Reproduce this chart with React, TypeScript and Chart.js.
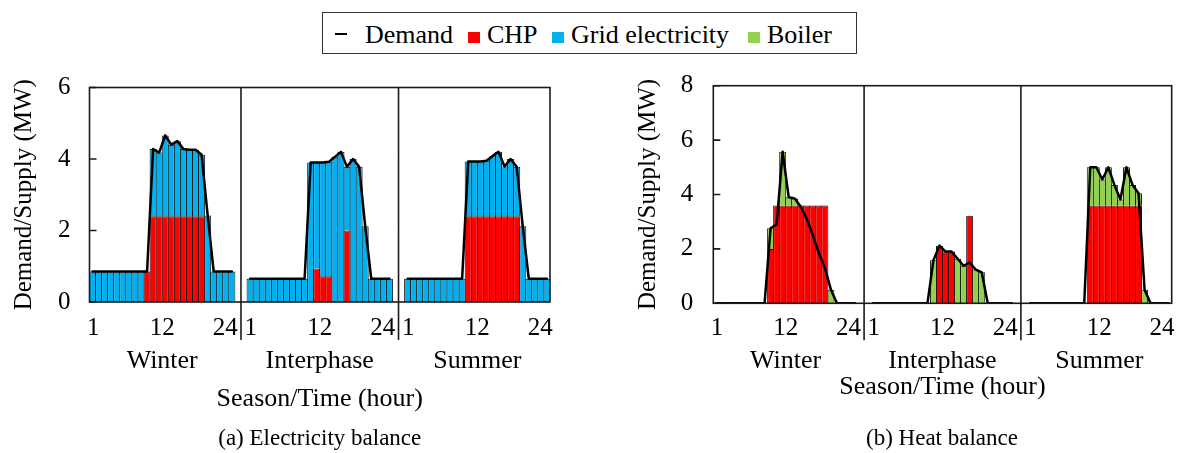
import React, { useEffect, useRef } from 'react';
import { Chart, registerables } from 'chart.js';

Chart.register(...registerables);

// ---------------- data ----------------
const SEASONS = ['Winter', 'Interphase', 'Summer'];
const HOUR_TICK_LABELS = ['1', '12', '24'];

// (a) Electricity balance, MW, hours 1..24
const ELEC_DEMAND_WINTER = [0.85, 0.85, 0.85, 0.85, 0.85, 0.85, 0.85, 0.85, 0.85, 0.85, 4.28, 4.18, 4.66, 4.40, 4.50, 4.28, 4.26, 4.26, 4.12, 2.42, 0.85, 0.85, 0.85, 0.85];
const ELEC_CHP_WINTER = [0, 0, 0, 0, 0, 0, 0, 0, 0, 0.85, 2.4, 2.4, 2.4, 2.4, 2.4, 2.4, 2.4, 2.4, 2.4, 0, 0, 0, 0, 0];
const ELEC_GRID_WINTER = [0.85, 0.85, 0.85, 0.85, 0.85, 0.85, 0.85, 0.85, 0.85, 0, 1.88, 1.78, 2.26, 2.00, 2.10, 1.88, 1.86, 1.86, 1.72, 2.42, 0.85, 0.85, 0.85, 0.85];

const ELEC_DEMAND_INTER = [0.65, 0.65, 0.65, 0.65, 0.65, 0.65, 0.65, 0.65, 0.65, 0.65, 3.90, 3.90, 3.90, 3.92, 4.06, 4.20, 3.78, 4.00, 3.78, 2.12, 0.65, 0.65, 0.65, 0.65];
const ELEC_CHP_INTER = [0, 0, 0, 0, 0, 0, 0, 0, 0, 0, 0, 0.94, 0.72, 0.72, 0, 0, 2.0, 0, 0, 0, 0, 0, 0, 0];
const ELEC_GRID_INTER = [0.65, 0.65, 0.65, 0.65, 0.65, 0.65, 0.65, 0.65, 0.65, 0.65, 3.90, 2.96, 3.18, 3.20, 4.06, 4.20, 1.78, 4.00, 3.78, 2.12, 0.65, 0.65, 0.65, 0.65];

const ELEC_DEMAND_SUMMER = [0.65, 0.65, 0.65, 0.65, 0.65, 0.65, 0.65, 0.65, 0.65, 0.65, 3.93, 3.93, 3.93, 3.95, 4.08, 4.20, 3.79, 4.00, 3.78, 2.12, 0.65, 0.65, 0.65, 0.65];
const ELEC_CHP_SUMMER = [0, 0, 0, 0, 0, 0, 0, 0, 0, 0, 2.4, 2.4, 2.4, 2.4, 2.4, 2.4, 2.4, 2.4, 2.4, 0, 0, 0, 0, 0];
const ELEC_GRID_SUMMER = [0.65, 0.65, 0.65, 0.65, 0.65, 0.65, 0.65, 0.65, 0.65, 0.65, 1.53, 1.53, 1.53, 1.55, 1.68, 1.80, 1.39, 1.60, 1.38, 2.12, 0.65, 0.65, 0.65, 0.65];

// (b) Heat balance, MW, hours 1..24
const HEAT_DEMAND_WINTER = [0, 0, 0, 0, 0, 0, 0, 0, 0, 2.76, 2.90, 5.57, 3.90, 3.85, 3.55, 3.10, 2.50, 1.85, 1.30, 0.50, 0, 0, 0, 0];
const HEAT_CHP_WINTER = [0, 0, 0, 0, 0, 0, 0, 0, 0, 2.0, 3.6, 3.6, 3.6, 3.6, 3.6, 3.6, 3.6, 3.6, 3.6, 0, 0, 0, 0, 0];
const HEAT_BOILER_WINTER = [0, 0, 0, 0, 0, 0, 0, 0, 0, 0.76, 0, 1.97, 0.30, 0.25, 0, 0, 0, 0, 0, 0.50, 0, 0, 0, 0];

const HEAT_DEMAND_INTER = [0, 0, 0, 0, 0, 0, 0, 0, 0, 0, 1.58, 2.12, 1.90, 1.90, 1.64, 1.38, 1.50, 1.24, 1.14, 0, 0, 0, 0, 0];
const HEAT_CHP_INTER = [0, 0, 0, 0, 0, 0, 0, 0, 0, 0, 0, 2.12, 1.90, 1.90, 0, 0, 3.22, 0, 0, 0, 0, 0, 0, 0];
const HEAT_BOILER_INTER = [0, 0, 0, 0, 0, 0, 0, 0, 0, 0, 1.58, 0, 0, 0, 1.64, 1.38, 0, 1.24, 1.14, 0, 0, 0, 0, 0];

const HEAT_DEMAND_SUMMER = [0, 0, 0, 0, 0, 0, 0, 0, 0, 0, 5.0, 5.0, 4.55, 5.0, 4.35, 3.82, 5.0, 4.35, 4.05, 0.50, 0, 0, 0, 0];
const HEAT_CHP_SUMMER = [0, 0, 0, 0, 0, 0, 0, 0, 0, 0, 3.6, 3.6, 3.6, 3.6, 3.6, 3.6, 3.6, 3.6, 3.6, 0, 0, 0, 0, 0];
const HEAT_BOILER_SUMMER = [0, 0, 0, 0, 0, 0, 0, 0, 0, 0, 1.40, 1.40, 0.95, 1.40, 0.75, 0.22, 1.40, 0.75, 0.45, 0.50, 0, 0, 0, 0];

// ---------------- layout / style ----------------
const SERIF = "'Liberation Serif', 'Times New Roman', serif";
const SEASON_OFFSETS = [0, 26, 52]; // 24 hours + 2 empty slots between seasons
const AXIS_MIN = -0.5;
const AXIS_MAX = 75.5;
const HOUR_TICK_POS = [0.1, 11.5, 21.9];
const SEASON_CENTER = 11.5;
const RED = '#FF0000';
const BLUE = '#00B0F0';
const GREEN = '#92D050';
const EDGE = '#1a1a1a';

function barPoints(seasons: number[][]) {
  const pts: any[] = [];
  seasons.forEach((vals, s) => vals.forEach((v, h) => pts.push({ x: SEASON_OFFSETS[s] + h, y: v })));
  return pts;
}
function linePoints(seasons: number[][]) {
  const pts: any[] = [];
  seasons.forEach((vals, s) => {
    vals.forEach((v, h) => pts.push({ x: SEASON_OFFSETS[s] + h, y: v }));
    if (s < seasons.length - 1) pts.push({ x: SEASON_OFFSETS[s] + 24, y: null });
  });
  return pts;
}

const framePlugin = {
  id: 'frame',
  afterDraw(chart: any, _args: any, opts: any) {
    const { ctx, chartArea, scales } = chart;
    const { left, right, top, bottom } = chartArea;
    ctx.save();
    ctx.strokeStyle = EDGE;
    ctx.lineWidth = 1.6;
    ctx.strokeRect(left, top, right - left, bottom - top);
    ctx.beginPath();
    scales.y.ticks.forEach((t: any) => {
      const y = scales.y.getPixelForValue(t.value);
      ctx.moveTo(left, y);
      ctx.lineTo(left + 7, y);
    });
    SEASON_OFFSETS.slice(1).forEach((o) => {
      const x = scales.x.getPixelForValue(o - 1.5);
      ctx.moveTo(x, top);
      ctx.lineTo(x, bottom + opts.sepExtend);
    });
    ctx.stroke();
    ctx.restore();
  },
};

function BalanceChart(props: any) {
  const ref = useRef<HTMLCanvasElement | null>(null);
  const g = props.geom;
  useEffect(() => {
    const tickFont = { family: SERIF, size: 25, lineHeight: 1 };
    const barStyle = {
      borderColor: EDGE,
      borderWidth: { top: 1, left: 1, right: 1, bottom: 0 },
      borderSkipped: false,
      barPercentage: 1.16,
      categoryPercentage: 1,
      stack: 'supply',
      order: 1,
    };
    const chart = new Chart(ref.current as HTMLCanvasElement, {
      type: 'bar',
      data: {
        datasets: [
          {
            type: 'line',
            label: 'Demand',
            data: linePoints(props.demand),
            borderColor: '#000',
            borderWidth: 2.5,
            borderJoinStyle: 'round',
            borderCapStyle: 'round',
            pointRadius: 0,
            tension: 0,
            spanGaps: false,
            stack: 'demand',
            order: 0,
          } as any,
          { label: 'CHP', data: barPoints(props.chp), backgroundColor: RED, ...barStyle } as any,
          { label: props.otherLabel, data: barPoints(props.other), backgroundColor: props.otherColor, ...barStyle } as any,
        ],
      },
      options: {
        animation: false,
        responsive: false,
        devicePixelRatio: 1,
        layout: { padding: g.padding },
        plugins: { legend: { display: false }, tooltip: { enabled: false }, frame: { sepExtend: g.sepExtend } } as any,
        scales: {
          x: {
            type: 'linear',
            min: AXIS_MIN,
            max: AXIS_MAX,
            offset: false,
            stacked: true,
            weight: 0,
            grid: { display: false, offset: false },
            border: { display: false },
            afterBuildTicks: (s: any) => {
              const t: any[] = [];
              SEASON_OFFSETS.forEach((o) => HOUR_TICK_POS.forEach((p) => t.push({ value: o + p })));
              s.ticks = t;
            },
            afterFit: (s: any) => { s.height = g.hourAxisH; },
            ticks: {
              autoSkip: false,
              maxRotation: 0,
              padding: g.hourPad,
              color: '#000',
              font: tickFont,
              callback: (_v: any, i: number) => HOUR_TICK_LABELS[i % HOUR_TICK_LABELS.length],
            },
          },
          x2: {
            type: 'linear',
            position: 'bottom',
            min: AXIS_MIN,
            max: AXIS_MAX,
            offset: false,
            weight: 1,
            grid: { display: false, offset: false },
            border: { display: false },
            afterBuildTicks: (s: any) => {
              s.ticks = SEASON_OFFSETS.map((o) => ({ value: o + SEASON_CENTER }));
            },
            afterFit: (s: any) => { s.height = g.seasonAxisH; },
            ticks: {
              autoSkip: false,
              maxRotation: 0,
              padding: g.seasonPad,
              color: '#000',
              font: { family: SERIF, size: 26, lineHeight: 1 },
              callback: (_v: any, i: number) => SEASONS[i],
            },
            title: {
              display: true,
              text: 'Season/Time (hour)',
              color: '#000',
              font: { family: SERIF, size: 26, lineHeight: 1 },
              padding: { top: 0, bottom: g.xTitlePad },
            },
          },
          y: {
            type: 'linear',
            min: 0,
            max: props.yMax,
            stacked: true,
            grid: { display: false },
            border: { display: false },
            afterFit: (s: any) => { s.width = g.yWidth; },
            ticks: { stepSize: 2, padding: g.yPad, color: '#000', font: tickFont },
            title: {
              display: true,
              text: 'Demand/Supply (MW)',
              color: '#000',
              font: { family: SERIF, size: 25, lineHeight: 1 },
              padding: { top: g.yTitlePad, bottom: 0 },
            },
          },
        } as any,
      },
      plugins: [framePlugin],
    });
    return () => chart.destroy();
  }, []);
  return (
    <canvas
      ref={ref}
      width={g.w}
      height={g.h}
      style={{ position: 'absolute', left: g.left, top: g.top, width: g.w, height: g.h }}
    />
  );
}

const LEFT_GEOM = {
  left: 0, top: 60, w: 600, h: 393,
  padding: { top: 27.5, right: 50, bottom: 41, left: 0 },
  yWidth: 89.5, yPad: 11, yTitlePad: 11.5,
  hourAxisH: 36, hourPad: 6,
  seasonAxisH: 74, seasonPad: 2, xTitlePad: 0,
  sepExtend: 38,
};
const RIGHT_GEOM = {
  left: 600, top: 60, w: 586, h: 393,
  padding: { top: 25.7, right: 14.3, bottom: 47, left: 0 },
  yWidth: 113.3, yPad: 12, yTitlePad: 35.5,
  hourAxisH: 36, hourPad: 5,
  seasonAxisH: 66.7, seasonPad: 0.7, xTitlePad: 6,
  sepExtend: 37,
};

const textStyle: any = { position: 'absolute', fontFamily: SERIF, fontSize: 26, lineHeight: '26px', whiteSpace: 'nowrap', color: '#000' };
const sq = (left: number, color: string): any => ({ position: 'absolute', left, top: 31.8, width: 12, height: 11.6, background: color });

export default function App() {
  return (
    <div style={{ position: 'absolute', left: 0, top: 0, width: 1186, height: 453, background: '#fff', overflow: 'hidden' }}>
      <BalanceChart
        geom={LEFT_GEOM}
        yMax={6}
        demand={[ELEC_DEMAND_WINTER, ELEC_DEMAND_INTER, ELEC_DEMAND_SUMMER]}
        chp={[ELEC_CHP_WINTER, ELEC_CHP_INTER, ELEC_CHP_SUMMER]}
        other={[ELEC_GRID_WINTER, ELEC_GRID_INTER, ELEC_GRID_SUMMER]}
        otherLabel="Grid electricity"
        otherColor={BLUE}
      />
      <BalanceChart
        geom={RIGHT_GEOM}
        yMax={8}
        demand={[HEAT_DEMAND_WINTER, HEAT_DEMAND_INTER, HEAT_DEMAND_SUMMER]}
        chp={[HEAT_CHP_WINTER, HEAT_CHP_INTER, HEAT_CHP_SUMMER]}
        other={[HEAT_BOILER_WINTER, HEAT_BOILER_INTER, HEAT_BOILER_SUMMER]}
        otherLabel="Boiler"
        otherColor={GREEN}
      />
      {/* legend */}
      <div style={{ position: 'absolute', left: 322, top: 12, width: 535, height: 42, border: '1.5px solid #333', boxSizing: 'border-box' }} />
      <div style={{ position: 'absolute', left: 335, top: 32.5, width: 12, height: 2.5, background: '#000' }} />
      <span style={{ ...textStyle, left: 365, top: 21.5 }}>Demand</span>
      <div style={sq(468, RED)} />
      <span style={{ ...textStyle, left: 487, top: 21.5 }}>CHP</span>
      <div style={sq(552, BLUE)} />
      <span style={{ ...textStyle, left: 571, top: 21.5 }}>Grid electricity</span>
      <div style={sq(748, GREEN)} />
      <span style={{ ...textStyle, left: 767, top: 21.5 }}>Boiler</span>
      {/* captions */}
      <div style={{ ...textStyle, fontSize: 23, lineHeight: '23px', left: 0, width: 639.5, textAlign: 'center', top: 426 }}>(a) Electricity balance</div>
      <div style={{ ...textStyle, fontSize: 23, lineHeight: '23px', left: 700, width: 484, textAlign: 'center', top: 426 }}>(b) Heat balance</div>
    </div>
  );
}
